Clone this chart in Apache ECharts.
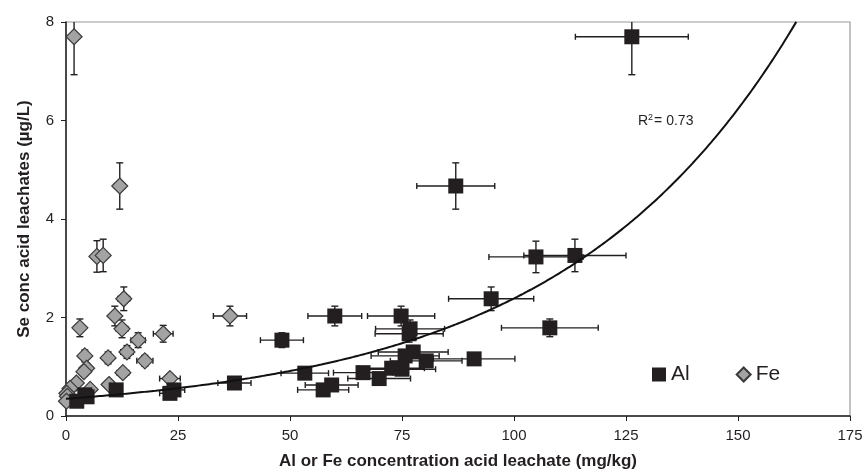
<!DOCTYPE html>
<html>
<head>
<meta charset="utf-8">
<script src="https://cdn.jsdelivr.net/npm/echarts@6/dist/echarts.min.js"></script>
<style>
  html, body { margin: 0; padding: 0; background: #fff; }
  #chart { width: 864px; height: 473px; }
</style>
</head>
<body>
<div id="chart"></div>
<script>
// Al: [conc mg/kg, Se ug/L, x error, y error]
var alPoints = [
  [126.3, 7.7, 12.6, 0.77], [87.0, 4.67, 8.7, 0.47], [104.9, 3.23, 10.5, 0.32],
  [113.6, 3.26, 11.4, 0.33], [94.9, 2.38, 9.5, 0.24], [60.0, 2.03, 6.0, 0.2],
  [74.8, 2.03, 7.5, 0.2], [108.0, 1.79, 10.8, 0.18], [76.8, 1.77, 7.7, 0.18],
  [76.6, 1.67, 7.6, 0.17], [48.2, 1.54, 4.8, 0.15], [77.5, 1.3, 7.8, 0.13],
  [75.7, 1.22, 7.6, 0.12], [80.4, 1.12, 8.0, 0.11], [91.1, 1.16, 9.1, 0.12],
  [72.7, 0.97, 7.3, 0.1], [75.0, 0.95, 7.5, 0.1], [53.3, 0.87, 5.3, 0.09],
  [66.3, 0.88, 6.6, 0.09], [69.9, 0.76, 7.0, 0.08], [37.6, 0.67, 3.7, 0.07],
  [59.3, 0.63, 5.9, 0.06], [57.4, 0.53, 5.7, 0.05], [24.1, 0.53, 2.4, 0.05],
  [23.2, 0.46, 2.3, 0.05], [11.2, 0.53, 1.1, 0.05], [4.2, 0.43, 0.4, 0.04],
  [4.7, 0.39, 0.5, 0.04], [2.4, 0.3, 0.2, 0.03]
];
// Fe: [conc mg/kg, Se ug/L, x error, y error]
var fePoints = [
  [1.8, 7.7, 0.2, 0.77], [12.0, 4.67, 1.2, 0.47], [6.9, 3.24, 0.7, 0.32],
  [8.3, 3.26, 0.8, 0.33], [12.9, 2.38, 1.3, 0.24], [36.6, 2.03, 3.7, 0.2],
  [10.9, 2.03, 1.1, 0.2], [3.1, 1.79, 0.3, 0.18], [12.5, 1.77, 1.3, 0.18],
  [21.7, 1.67, 2.2, 0.17], [16.1, 1.54, 1.6, 0.15], [13.6, 1.3, 1.4, 0.13],
  [4.2, 1.22, 0.4, 0.12], [9.4, 1.18, 0.9, 0.12], [17.6, 1.12, 1.8, 0.11],
  [4.6, 0.97, 0.5, 0.1], [4.0, 0.9, 0.4, 0.09], [12.7, 0.88, 1.3, 0.09],
  [23.2, 0.76, 2.3, 0.08], [2.3, 0.67, 0.2, 0.07], [9.6, 0.64, 1.0, 0.06],
  [5.4, 0.54, 0.5, 0.05], [0.9, 0.56, 0.1, 0.06], [0.2, 0.46, 0.0, 0.05],
  [0.3, 0.4, 0.0, 0.04], [0.1, 0.3, 0.0, 0.03]
];
// exponential trendline y = a * exp(b * x), R2 = 0.73
var trendA = 0.35;
var trendB = 0.0192;
var trendXMax = 163;

var trendLine = [];
for (var x = 0; x <= trendXMax; x += 1) {
  trendLine.push([x, trendA * Math.exp(trendB * x)]);
}

var font = 'Liberation Sans, Arial, sans-serif';

function errorBars(params, api) {
  var x = api.value(0), y = api.value(1), ex = api.value(2), ey = api.value(3);
  var st = { stroke: '#231f20', lineWidth: 1.4 };
  var kids = [];
  var t = api.coord([x, y + ey]), b = api.coord([x, y - ey]);
  kids.push({ type: 'line', shape: { x1: t[0], y1: t[1], x2: b[0], y2: b[1] }, style: st });
  kids.push({ type: 'line', shape: { x1: t[0] - 3.5, y1: t[1], x2: t[0] + 3.5, y2: t[1] }, style: st });
  kids.push({ type: 'line', shape: { x1: b[0] - 3.5, y1: b[1], x2: b[0] + 3.5, y2: b[1] }, style: st });
  var l = api.coord([x - ex, y]), r = api.coord([x + ex, y]);
  if (r[0] - l[0] > 8) {
    kids.push({ type: 'line', shape: { x1: l[0], y1: l[1], x2: r[0], y2: r[1] }, style: st });
    kids.push({ type: 'line', shape: { x1: l[0], y1: l[1] - 3, x2: l[0], y2: l[1] + 3 }, style: st });
    kids.push({ type: 'line', shape: { x1: r[0], y1: r[1] - 3, x2: r[0], y2: r[1] + 3 }, style: st });
  }
  return { type: 'group', children: kids };
}

var chart = echarts.init(document.getElementById('chart'));
chart.setOption({
  animation: false,
  textStyle: { fontFamily: font },
  grid: {
    left: 66, right: 14, top: 22, bottom: 57,
    outerBoundsMode: 'none', containLabel: false,
    show: true, borderColor: '#9a9a9a', borderWidth: 1.2
  },
  legend: {
    data: ['Al', 'Fe'],
    left: 647, top: 359,
    itemWidth: 14, itemHeight: 14, itemGap: 46,
    textStyle: { fontSize: 21, color: '#231f20', fontFamily: font }
  },
  xAxis: {
    type: 'value', min: 0, max: 175, interval: 25,
    name: 'Al or Fe concentration acid leachate (mg/kg)',
    nameLocation: 'middle', nameGap: 37,
    nameTextStyle: { fontSize: 17, fontWeight: 'bold', color: '#231f20' },
    axisLine: { lineStyle: { color: '#231f20', width: 1.5 } },
    axisTick: { show: true, length: 5, lineStyle: { color: '#231f20' } },
    axisLabel: { fontSize: 15, color: '#231f20', margin: 12 },
    splitLine: { show: false }
  },
  yAxis: {
    type: 'value', min: 0, max: 8, interval: 2,
    name: 'Se conc acid leachates (µg/L)',
    nameLocation: 'middle', nameGap: 33,
    nameTextStyle: { fontSize: 17, fontWeight: 'bold', color: '#231f20' },
    axisLine: { show: true, lineStyle: { color: '#231f20', width: 1.5 } },
    axisTick: { show: true, length: 5, lineStyle: { color: '#231f20' } },
    axisLabel: { fontSize: 15, color: '#231f20', margin: 12 },
    splitLine: { show: false }
  },
  graphic: [{
    type: 'text', left: 638, top: 113,
    style: {
      text: '{b|R}{s|2}{b|= 0.73}',
      rich: {
        b: { fontSize: 14, fontFamily: font, fill: '#231f20' },
        s: { fontSize: 9, fontFamily: font, fill: '#231f20', verticalAlign: 'top', padding: [0, 1, 8, 0] }
      }
    }
  }],
  series: [
    {
      type: 'custom', name: 'alErr', renderItem: errorBars, clip: true, z: 1,
      encode: { x: 0, y: 1 }, data: alPoints, silent: true
    },
    {
      type: 'custom', name: 'feErr', renderItem: errorBars, clip: true, z: 1,
      encode: { x: 0, y: 1 }, data: fePoints, silent: true
    },
    {
      type: 'scatter', name: 'Fe', symbol: 'diamond', symbolSize: 16, z: 3,
      itemStyle: { color: '#a3a3a3', borderColor: '#3a3a3a', borderWidth: 1.2, opacity: 1 },
      data: fePoints.map(function (p) { return [p[0], p[1]]; })
    },
    {
      type: 'scatter', name: 'Al', symbol: 'rect', symbolSize: 15, z: 4,
      itemStyle: { color: '#231f20', opacity: 1 },
      data: alPoints.map(function (p) { return [p[0], p[1]]; })
    },
    {
      type: 'line', name: 'trend', data: trendLine, showSymbol: false, smooth: true,
      lineStyle: { color: '#111', width: 2 }, z: 5, silent: true
    }
  ]
});
</script>
</body>
</html>
